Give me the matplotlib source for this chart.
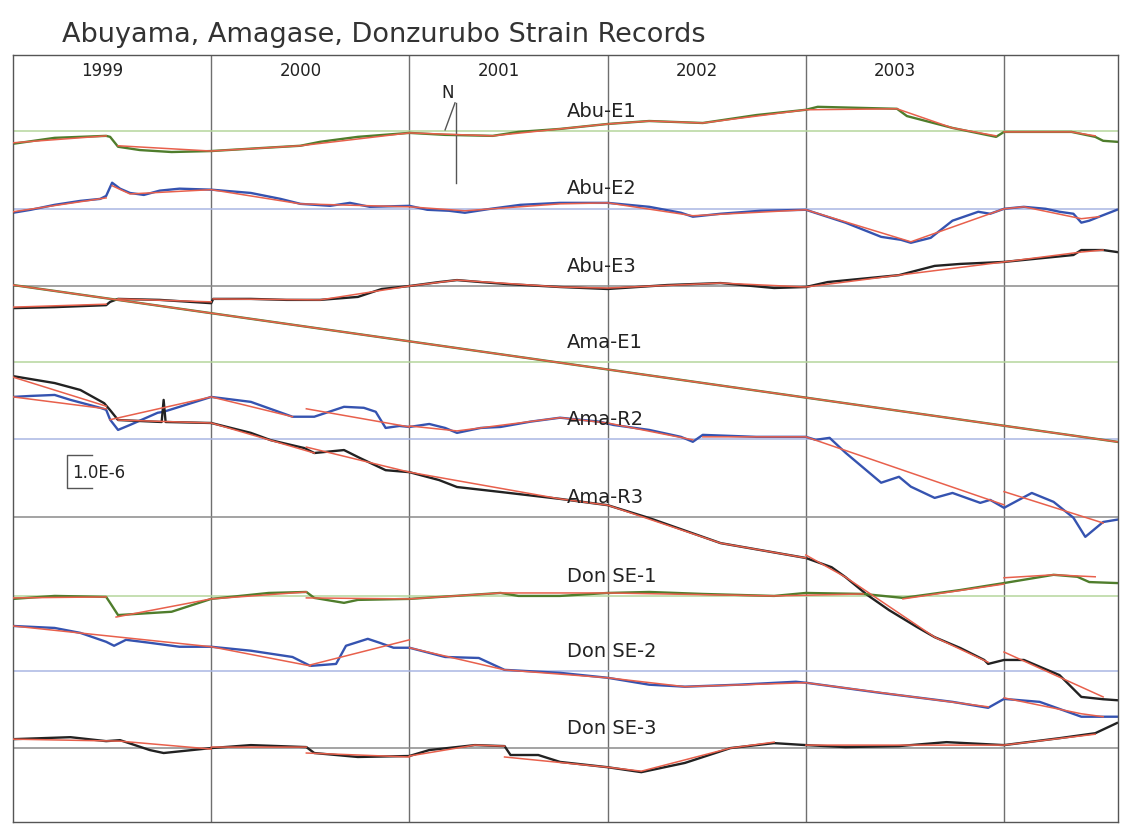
import numpy as np
import matplotlib.pyplot as plt

nan = np.nan

# x in decimal years, values in strain (1e-6) relative to each channel's reference line
year_labels = ['1999', '2000', '2001', '2002', '2003']
year_lines = [2000, 2001, 2002, 2003, 2004]
channels = ['Abu-E1', 'Abu-E2', 'Abu-E3', 'Ama-E1', 'Ama-R2', 'Ama-R3',
            'Don SE-1', 'Don SE-2', 'Don SE-3']
baselines = [20.94, 18.58, 16.24, 13.94, 11.61, 9.24, 6.85, 4.58, 2.24]

abu_e1 = [(1999.00, -0.39), (1999.21, -0.21), (1999.47, -0.15), (1999.49, -0.18), (1999.53, -0.48),
          (1999.64, -0.58), (1999.80, -0.64), (2000.00, -0.61), (2000.25, -0.52), (2000.45, -0.45),
          (2000.55, -0.33), (2000.74, -0.18), (2001.00, -0.06), (2001.18, -0.12), (2001.42, -0.15),
          (2001.55, -0.03), (2001.76, 0.06), (2002.00, 0.21), (2002.21, 0.30), (2002.48, 0.24),
          (2002.75, 0.48), (2003.00, 0.64), (2003.06, 0.73), (2003.46, 0.67), (2003.51, 0.45),
          (2003.74, 0.09), (2003.96, -0.18), (2004.00, -0.03), (2004.34, -0.03), (2004.46, -0.18),
          (2004.50, -0.30), (2004.57, -0.33)]
abu_e1_fit = [(1999.00, -0.36), (1999.47, -0.15), None,
              (1999.53, -0.45), (2000.00, -0.61), (2000.45, -0.45), (2001.00, -0.06), (2001.42, -0.15),
              (2002.00, 0.21), (2002.21, 0.30), (2002.48, 0.24), (2003.00, 0.64), (2003.46, 0.67),
              (2003.74, 0.09), (2003.96, -0.15), None,
              (2004.00, -0.03), (2004.34, -0.03), (2004.46, -0.15)]

abu_e2 = [(1999.00, -0.12), (1999.09, -0.03), (1999.21, 0.12), (1999.34, 0.24), (1999.44, 0.30),
          (1999.47, 0.39), (1999.50, 0.79), (1999.54, 0.61), (1999.59, 0.48), (1999.66, 0.42),
          (1999.74, 0.55), (1999.84, 0.61), (2000.00, 0.58), (2000.20, 0.48), (2000.35, 0.30),
          (2000.45, 0.15), (2000.60, 0.09), (2000.70, 0.18), (2000.80, 0.06), (2001.00, 0.09),
          (2001.09, -0.03), (2001.20, -0.06), (2001.28, -0.12), (2001.41, 0.00), (2001.56, 0.12),
          (2001.76, 0.18), (2002.00, 0.18), (2002.21, 0.06), (2002.37, -0.12), (2002.43, -0.24),
          (2002.57, -0.15), (2002.77, -0.06), (2003.00, -0.03), (2003.20, -0.42), (2003.38, -0.85),
          (2003.48, -0.94), (2003.53, -1.03), (2003.63, -0.88), (2003.74, -0.36), (2003.87, -0.09),
          (2003.93, -0.15), (2004.00, 0.00), (2004.10, 0.06), (2004.21, 0.00), (2004.28, -0.09),
          (2004.35, -0.15), (2004.39, -0.42), (2004.43, -0.36), (2004.48, -0.24), (2004.57, -0.03)]
abu_e2_fit = [(1999.00, -0.09), (1999.47, 0.33), None,
              (1999.50, 0.70), (1999.59, 0.45), (2000.00, 0.58), (2000.45, 0.15), (2001.00, 0.06),
              (2001.28, -0.06), (2001.76, 0.15), (2002.00, 0.18), (2002.43, -0.21), (2003.00, -0.03),
              (2003.53, -1.00), (2004.00, 0.00), (2004.10, 0.06), (2004.39, -0.30), (2004.48, -0.24)]

abu_e3 = [(1999.00, -0.67), (1999.21, -0.64), (1999.47, -0.58), (1999.49, -0.48), (1999.53, -0.39),
          (1999.74, -0.42), (2000.00, -0.52), (2000.01, -0.39), (2000.20, -0.39), (2000.38, -0.42),
          (2000.55, -0.42), (2000.74, -0.33), (2000.86, -0.09), (2001.00, 0.00), (2001.15, 0.12),
          (2001.24, 0.18), (2001.36, 0.12), (2001.49, 0.06), (2001.76, -0.03), (2002.00, -0.09),
          (2002.30, 0.03), (2002.57, 0.09), (2002.84, -0.06), (2003.00, -0.03), (2003.11, 0.12),
          (2003.47, 0.33), (2003.65, 0.61), (2003.78, 0.67), (2004.00, 0.73), (2004.35, 0.94),
          (2004.39, 1.09), (2004.50, 1.09), (2004.57, 1.03)]
abu_e3_fit = [(1999.00, -0.64), (1999.47, -0.55), None,
              (1999.53, -0.39), (2000.00, -0.48), None,
              (2000.01, -0.39), (2000.55, -0.42), (2001.00, 0.00), (2001.24, 0.18), (2001.76, -0.03),
              (2002.00, -0.06), (2002.57, 0.09), (2003.00, -0.03), (2003.47, 0.33), (2004.00, 0.73),
              (2004.39, 1.03), (2004.50, 1.09)]

ama_e1 = [(1999.00, 2.33), (2004.57, -2.42)]
ama_e1_fit = [(1999.00, 2.33), (2004.57, -2.42)]

ama_r2 = [(1999.00, 1.27), (1999.09, 1.30), (1999.21, 1.33), (1999.29, 1.18), (1999.44, 0.94),
          (1999.47, 0.88), (1999.49, 0.58), (1999.53, 0.27), (1999.59, 0.42), (1999.73, 0.79),
          (1999.76, 0.82), (2000.00, 1.27), (2000.20, 1.12), (2000.41, 0.67), (2000.52, 0.67),
          (2000.67, 0.97), (2000.77, 0.94), (2000.83, 0.82), (2000.88, 0.33), (2000.95, 0.39),
          (2001.00, 0.36), (2001.10, 0.45), (2001.18, 0.33), (2001.24, 0.18), (2001.36, 0.33),
          (2001.46, 0.36), (2001.61, 0.52), (2001.76, 0.64), (2001.96, 0.52), (2002.03, 0.42),
          (2002.21, 0.27), (2002.37, 0.06), (2002.43, -0.09), (2002.48, 0.12), (2002.75, 0.06),
          (2003.00, 0.06), (2003.05, -0.03), (2003.12, 0.03), (2003.20, -0.42), (2003.38, -1.33),
          (2003.47, -1.15), (2003.53, -1.45), (2003.65, -1.79), (2003.74, -1.64), (2003.88, -1.94),
          (2003.93, -1.85), (2004.00, -2.09), (2004.14, -1.64), (2004.25, -1.91), (2004.35, -2.39),
          (2004.41, -2.97), (2004.50, -2.52), (2004.57, -2.45)]
ama_r2_fit = [(1999.00, 1.27), (1999.47, 0.91), None,
              (1999.49, 0.58), (2000.00, 1.27), (2000.41, 0.67), None,
              (2000.48, 0.91), (2001.00, 0.36), None,
              (2001.00, 0.39), (2001.24, 0.24), (2001.76, 0.64), (2002.00, 0.48), (2002.43, -0.03), None,
              (2002.48, 0.06), (2003.00, 0.06), (2004.00, -2.00), None,
              (2004.00, -1.60), (2004.50, -2.55)]

ama_r3 = [(1999.00, 4.27), (1999.21, 4.06), (1999.34, 3.85), (1999.46, 3.45), (1999.49, 3.24),
          (1999.53, 2.94), (1999.64, 2.91), (1999.75, 2.88), (1999.76, 3.55), (1999.77, 2.88),
          (2000.00, 2.85), (2000.20, 2.55), (2000.30, 2.33), (2000.47, 2.09), (2000.52, 1.94),
          (2000.67, 2.03), (2000.75, 1.79), (2000.88, 1.42), (2001.00, 1.36), (2001.15, 1.12),
          (2001.24, 0.91), (2001.46, 0.76), (2001.76, 0.55), (2002.00, 0.36), (2002.21, -0.03),
          (2002.57, -0.79), (2003.00, -1.24), (2003.13, -1.52), (2003.20, -1.82), (2003.31, -2.36),
          (2003.42, -2.82), (2003.56, -3.33), (2003.65, -3.64), (2003.78, -3.97), (2003.90, -4.33),
          (2003.92, -4.45), (2004.00, -4.33), (2004.10, -4.33), (2004.28, -4.79), (2004.39, -5.45),
          (2004.50, -5.52), (2004.57, -5.55)]
ama_r3_fit = [(1999.00, 4.24), (1999.47, 3.36), None,
              (1999.53, 2.94), (2000.00, 2.85), (2000.52, 1.94), None,
              (2000.48, 2.12), (2001.00, 1.36), (2001.76, 0.55), (2002.00, 0.36), (2002.57, -0.79),
              (2003.00, -1.24), None,
              (2003.00, -1.15), (2003.20, -1.82), (2003.65, -3.64), (2003.92, -4.40), None,
              (2004.00, -4.09), (2004.50, -5.45)]

don_se1 = [(1999.00, -0.09), (1999.21, 0.00), (1999.47, -0.03), (1999.49, -0.21), (1999.53, -0.58),
           (1999.69, -0.52), (1999.80, -0.48), (2000.00, -0.09), (2000.29, 0.09), (2000.48, 0.12),
           (2000.52, -0.06), (2000.67, -0.21), (2000.74, -0.12), (2001.00, -0.09), (2001.46, 0.09),
           (2001.55, 0.00), (2001.76, 0.00), (2002.00, 0.09), (2002.21, 0.12), (2002.48, 0.06),
           (2002.84, 0.00), (2003.00, 0.09), (2003.29, 0.06), (2003.49, -0.06), (2003.78, 0.18),
           (2004.00, 0.39), (2004.25, 0.64), (2004.37, 0.58), (2004.43, 0.42), (2004.57, 0.39)]
don_se1_fit = [(1999.00, -0.06), (1999.47, -0.03), None,
               (1999.52, -0.64), (2000.00, -0.09), (2000.48, 0.12), None,
               (2000.48, -0.06), (2001.00, -0.09), (2001.46, 0.09), (2002.00, 0.09), (2002.84, 0.00),
               (2003.29, 0.06), None,
               (2003.49, -0.09), (2004.00, 0.36), None,
               (2004.00, 0.55), (2004.25, 0.64), (2004.46, 0.58)]

don_se2 = [(1999.00, 1.36), (1999.21, 1.30), (1999.34, 1.15), (1999.47, 0.88), (1999.51, 0.76),
           (1999.57, 0.94), (1999.69, 0.85), (1999.84, 0.73), (2000.00, 0.73), (2000.20, 0.61),
           (2000.41, 0.42), (2000.50, 0.15), (2000.63, 0.21), (2000.68, 0.76), (2000.79, 0.97),
           (2000.85, 0.85), (2000.92, 0.70), (2001.00, 0.70), (2001.18, 0.42), (2001.35, 0.39),
           (2001.48, 0.03), (2001.76, -0.06), (2002.00, -0.21), (2002.21, -0.42), (2002.39, -0.48),
           (2002.66, -0.42), (2002.95, -0.33), (2003.00, -0.36), (2003.38, -0.67), (2003.74, -0.94),
           (2003.92, -1.12), (2004.00, -0.85), (2004.18, -0.94), (2004.39, -1.39), (2004.57, -1.39)]
don_se2_fit = [(1999.00, 1.36), (2000.00, 0.73), (2000.50, 0.15), None,
               (2000.50, 0.18), (2001.00, 0.94), None,
               (2001.00, 0.70), (2001.48, 0.03), (2002.00, -0.21), (2002.39, -0.48), (2003.00, -0.36),
               (2003.92, -1.09), None,
               (2004.00, -0.82), (2004.39, -1.30), (2004.50, -1.39)]

don_se3 = [(1999.00, 0.27), (1999.29, 0.33), (1999.47, 0.21), (1999.54, 0.24), (1999.69, -0.06),
           (1999.76, -0.15), (2000.00, 0.00), (2000.20, 0.09), (2000.48, 0.03), (2000.52, -0.15),
           (2000.74, -0.27), (2001.00, -0.24), (2001.10, -0.06), (2001.33, 0.09), (2001.48, 0.06),
           (2001.51, -0.21), (2001.65, -0.21), (2001.76, -0.42), (2002.00, -0.58), (2002.17, -0.73),
           (2002.39, -0.45), (2002.62, 0.00), (2002.84, 0.15), (2003.00, 0.09), (2003.20, 0.03),
           (2003.47, 0.06), (2003.71, 0.18), (2004.00, 0.09), (2004.28, 0.30), (2004.46, 0.45),
           (2004.57, 0.76)]
don_se3_fit = [(1999.00, 0.27), (1999.54, 0.21), (2000.00, -0.03), None,
               (2000.00, 0.03), (2000.48, 0.03), None,
               (2000.48, -0.15), (2001.00, -0.27), None,
               (2001.00, -0.24), (2001.33, 0.09), (2001.48, 0.06), None,
               (2001.48, -0.27), (2002.00, -0.58), (2002.17, -0.70), (2002.62, 0.00), (2002.84, 0.18), None,
               (2003.00, 0.09), (2004.00, 0.09), (2004.46, 0.42)]

records = [abu_e1, abu_e2, abu_e3, ama_e1, ama_r2, ama_r3, don_se1, don_se2, don_se3]
fits = [abu_e1_fit, abu_e2_fit, abu_e3_fit, ama_e1_fit, ama_r2_fit, ama_r3_fit,
        don_se1_fit, don_se2_fit, don_se3_fit]

# colour cycle of the original: green / blue / black
data_colors = ['#4f7d2c', '#3553b0', '#222222']
ref_colors = ['#b5d69c', '#a9b6e3', '#8a8a8a']
fit_color = '#e8604c'


def unpack(pts):
    t = [p[0] if p is not None else nan for p in pts]
    v = [p[1] if p is not None else nan for p in pts]
    return np.array(t), np.array(v)


fig = plt.figure(figsize=(11.23, 8.25), dpi=100)
ax = fig.add_axes([13 / 1123, 3 / 825, 1105 / 1123, 767 / 825])

x_min, x_max = 1999.0, 2004.575
ax.set_xlim(x_min, x_max)
ax.set_ylim(0, 23.24)

for yl in year_lines:
    ax.axvline(yl, color='#6f6f6f', lw=1.0, zorder=1)

for i, (name, base) in enumerate(zip(channels, baselines)):
    k = i % 3
    ax.axhline(base, color=ref_colors[k], lw=1.1, zorder=1)
    t, v = unpack(records[i])
    ax.plot(t, base + v, color=data_colors[k], lw=1.7, zorder=2)
    ft, fv = unpack(fits[i])
    ax.plot(ft, base + fv, color=fit_color, lw=1.1, zorder=3)
    ax.text(2001.795, base + 0.6, name, fontsize=14, color='#222222',
            ha='left', va='center', zorder=4)

# year labels
for j, lab in enumerate(year_labels):
    ax.text(1999 + j + 0.45, 22.76, lab, fontsize=12, color='#222222',
            ha='center', va='center')

# scale bar 1.0E-6
ax.plot([1999.40, 1999.27, 1999.27, 1999.40], [11.12, 11.12, 10.12, 10.12],
        color='#555555', lw=1.0)
ax.text(1999.30, 10.58, '1.0E-6', fontsize=12, color='#222222', ha='left', va='center')

# "N" marker
ax.text(2001.195, 22.09, 'N', fontsize=12, color='#222222', ha='center', va='center')
ax.plot([2001.235, 2001.235], [21.79, 19.36], color='#555555', lw=1.0)
ax.plot([2001.23, 2001.18], [21.79, 20.97], color='#555555', lw=1.0)

ax.set_xticks([])
ax.set_yticks([])
for s in ax.spines.values():
    s.set_color('#555555')
    s.set_linewidth(1.0)

fig.text(62 / 1123, 1 - 35 / 825, 'Abuyama, Amagase, Donzurubo Strain Records',
         fontsize=19.5, color='#333333', ha='left', va='center')

fig.savefig('out.png', dpi=100)
